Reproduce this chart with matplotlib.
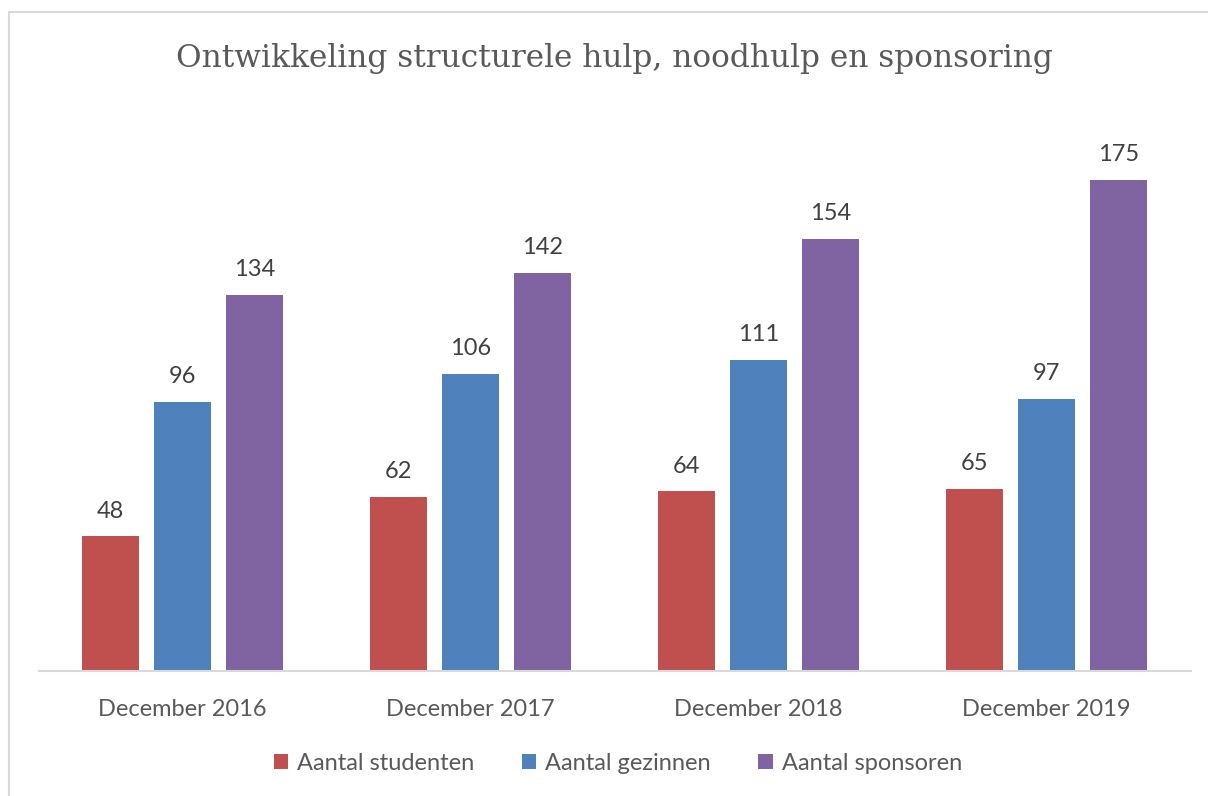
import matplotlib.pyplot as plt
import numpy as np
from matplotlib.patches import Rectangle

categories = ['December 2016', 'December 2017', 'December 2018', 'December 2019']
series_names = ['Aantal studenten', 'Aantal gezinnen', 'Aantal sponsoren']
studenten = [48, 62, 64, 65]
gezinnen = [96, 106, 111, 97]
sponsoren = [134, 142, 154, 175]
colors = ['#C0504D', '#4F81BD', '#8064A2']

W, H = 1208, 796
fig = plt.figure(figsize=(W / 100, H / 100), dpi=100)
ax = fig.add_axes([38.5 / W, 1 - 671 / H, 1152 / W, 561 / H])

# chart frame (cut off at right and bottom like the screenshot)
fig.patches.append(Rectangle((8.5 / W, -0.05), 1.1, 1 - 12.5 / H + 0.05,
                             transform=fig.transFigure, fill=False,
                             edgecolor='#D9D9D9', linewidth=1.5))

x = np.arange(len(categories))
bar_w = 57 / 288
step = 72 / 288
label_font = ['Lato', 'DejaVu Sans']

for i, (name, vals) in enumerate(zip(series_names, [studenten, gezinnen, sponsoren])):
    pos = x + (i - 1) * step
    bars = ax.bar(pos, vals, width=bar_w, color=colors[i], label=name)
    for b, v in zip(bars, vals):
        ax.text(b.get_x() + b.get_width() / 2, v + 9, str(v), ha='center', va='center',
                fontsize=17, color='#404040', family=label_font)

ax.set_xlim(-0.5, len(categories) - 0.5)
ax.set_ylim(0, 200)
ax.set_yticks([])
for s in ['top', 'left', 'right']:
    ax.spines[s].set_visible(False)
ax.spines['bottom'].set_color('#D9D9D9')
ax.spines['bottom'].set_linewidth(1.5)
ax.set_xticks(x)
ax.set_xticklabels(categories, fontsize=17, color='#595959', family=label_font)
ax.tick_params(axis='x', length=0, pad=20)

fig.text(614 / W, 1 - 58 / H, 'Ontwikkeling structurele hulp, noodhulp en sponsoring',
         ha='center', va='center', fontsize=22.5, color='#595959',
         family=['DejaVu Serif'])

fig.legend(loc='center', bbox_to_anchor=(618 / W, 1 - 763 / H), ncol=3, frameon=False,
           prop={'family': label_font, 'size': 17}, labelcolor='#595959',
           handlelength=0.6, handleheight=0.6, handletextpad=0.4, columnspacing=2.0)

fig.savefig('out.png', dpi=100)
